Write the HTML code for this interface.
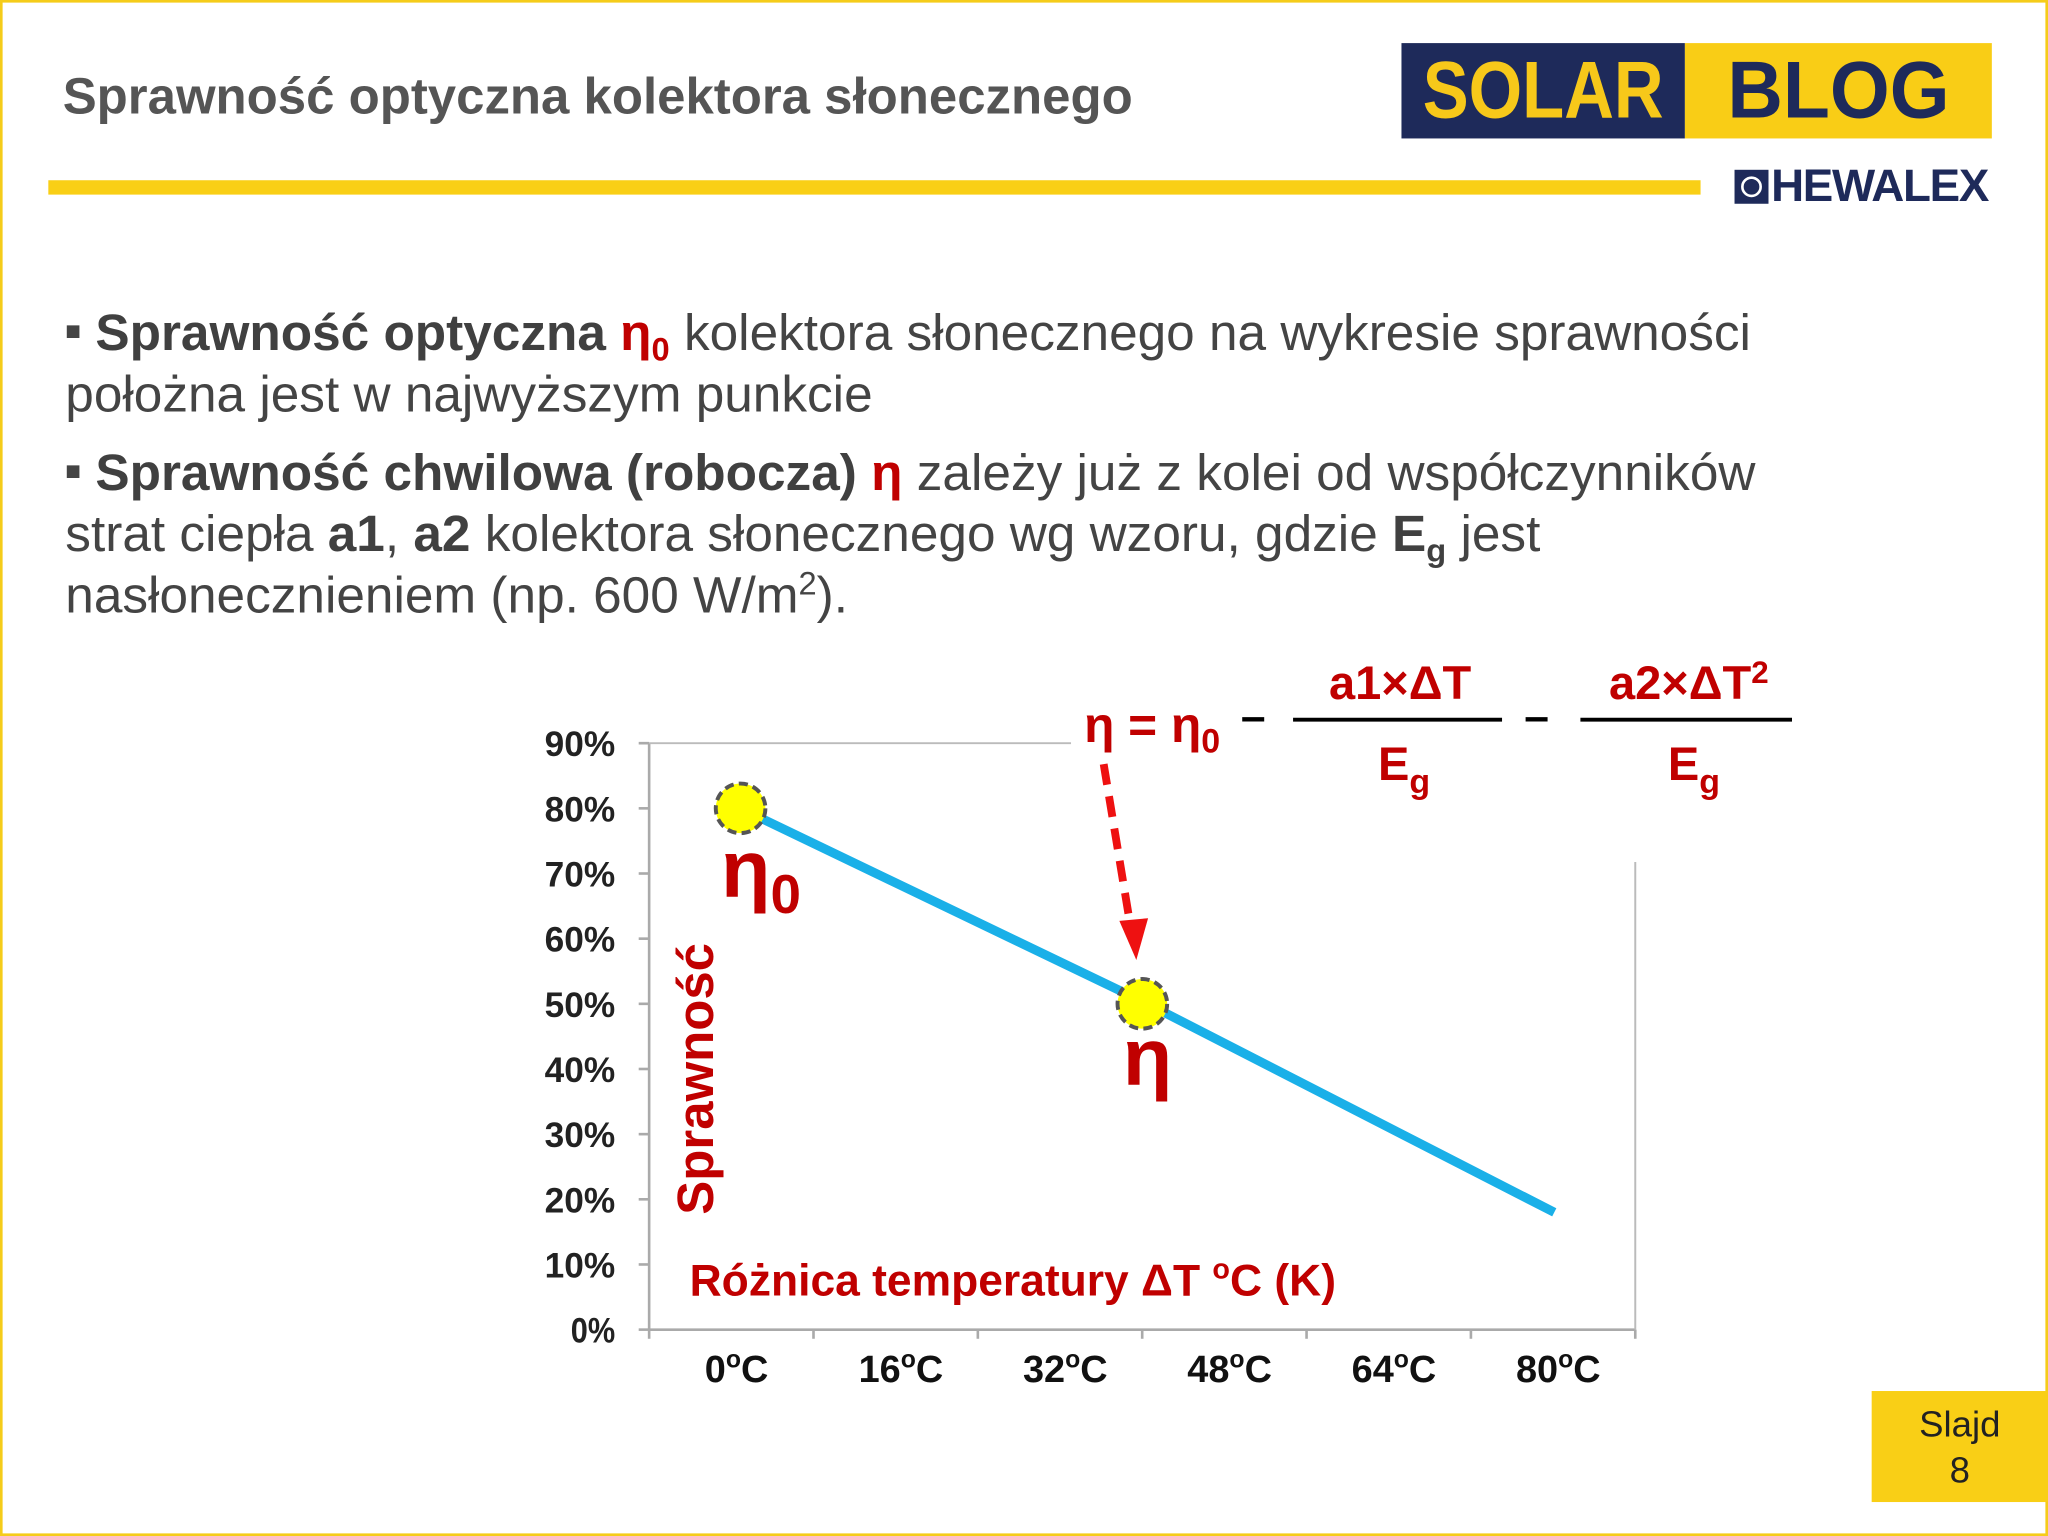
<!DOCTYPE html>
<html><head><meta charset="utf-8"><style>
html,body{margin:0;padding:0;background:#fff;}
body{width:2048px;height:1536px;overflow:hidden;}
#wrap{position:absolute;left:0;top:0;width:1568px;height:1176px;transform:scale(1.306122);transform-origin:0 0;font-family:"Liberation Sans",sans-serif;}
.abs{position:absolute;}
.bul{position:absolute;left:50px;font-size:39.3px;color:#444;line-height:47px;width:1345px;}
.bul b{color:#404040;}
.bul sub,.bul sup{line-height:0;font-size:25px;vertical-align:baseline;position:relative;}
.bul sub{top:8px;}
.bul sup{top:-14px;}
.r{color:#c00000;font-weight:bold;}
</style></head><body>
<div id="wrap">
<div class="abs" style="left:0;top:0;width:1564px;height:1172px;border:2px solid #f5cc1a;"></div>
<div class="abs" style="left:48px;top:53px;font-size:39px;font-weight:bold;color:#555;">Sprawność optyczna kolektora słonecznego</div>
<div class="abs" style="left:37px;top:138px;width:1265px;height:11px;background:#f9cf16;"></div>
<div class="abs" style="left:1073px;top:33px;width:452px;height:73px;">
 <div class="abs" style="left:0;top:0;width:217px;height:73px;background:#1e2a5a;color:#f7c81a;font-size:62px;font-weight:bold;line-height:73px;text-align:center;"><span style="display:inline-block;transform:scaleX(0.85);">SOLAR</span></div>
 <div class="abs" style="left:217px;top:0;width:235px;height:73px;background:#f9cd16;color:#1e2a5a;font-size:62px;font-weight:bold;line-height:73px;text-align:center;"><span style="display:inline-block;transform:scaleX(0.95);">BLOG</span></div>
</div>
<div class="abs" style="left:1328px;top:126px;height:34px;">
 <div class="abs" style="left:0;top:4px;width:26px;height:26px;background:#1e2a5a;"><div class="abs" style="left:5px;top:5px;width:12px;height:12px;border:2px solid #fff;border-radius:50%;"></div></div>
 <div class="abs" style="left:28px;top:-3px;font-size:35px;font-weight:bold;color:#1e2a5a;letter-spacing:-1px;white-space:nowrap;">HEWALEX</div>
</div>
<div class="bul" style="top:232px;"><span style="font-size:20px;vertical-align:8px;line-height:0;">■</span> <b>Sprawność optyczna</b> <span class="r">η<sub>0</sub></span> kolektora słonecznego na wykresie sprawności położna jest w najwyższym punkcie</div>
<div class="bul" style="top:339px;"><span style="font-size:20px;vertical-align:8px;line-height:0;">■</span> <b>Sprawność chwilowa (robocza)</b> <span class="r">η</span> zależy już z kolei od współczynników strat ciepła <b>a1</b>, <b>a2</b> kolektora słonecznego wg wzoru, gdzie <b>E<sub>g</sub></b> jest nasłonecznieniem (np. 600 W/m<sup>2</sup>).</div>

<svg class="abs" style="left:0;top:0" width="1568" height="1176">
<g id="axes"></g><g id="marks"></g>
<g font-family="Liberation Sans,sans-serif" font-weight="bold" fill="#c00000">
 <text x="830" y="568" font-size="38">η = η<tspan font-size="26" dy="8">0</tspan></text>
 <text x="950" y="560" font-size="34" fill="#000">–</text>
 <line x1="990" y1="551" x2="1150" y2="551" stroke="#000" stroke-width="3"/>
 <text x="1072" y="535" font-size="36" text-anchor="middle">a1×ΔT</text>
 <text x="1055" y="597" font-size="36">E<tspan font-size="26" dy="10">g</tspan></text>
 <text x="1167" y="560" font-size="34" fill="#000">–</text>
 <line x1="1210" y1="551" x2="1372" y2="551" stroke="#000" stroke-width="3"/>
 <text x="1293" y="535" font-size="36" text-anchor="middle">a2×ΔT<tspan font-size="24" dy="-12">2</tspan></text>
 <text x="1277" y="597" font-size="36">E<tspan font-size="26" dy="10">g</tspan></text>
</g>
<g>
 <line x1="845" y1="585" x2="866" y2="712" stroke="#ee1111" stroke-width="6" stroke-dasharray="16,9"/>
 <polygon points="857,705 879,703 870,735" fill="#ee1111"/>
</g>
</svg>
<div class="abs" style="left:1433px;top:1065px;width:135px;height:85px;background:#f9cf16;color:#222;font-size:28px;text-align:center;line-height:35px;padding-top:8px;box-sizing:border-box;">Slajd<br>8</div>
</div>
<script>
const yTicks=[0,10,20,30,40,50,60,70,80,90];
const xCategories=["0oC","16oC","32oC","48oC","64oC","80oC"];
const lineTemps=[0,40,80];
const lineEff=[80,50,18];
const markerTemps=[0,39.5];
const markerEff=[80,50];
const NS="http://www.w3.org/2000/svg";
const X0=497,X1=1252,Y0=1018,YH=569;
const yS=v=>Y0-(v/90)*(Y0-YH);
const xS=t=>567+t*(1190-567)/80;
const catW=(X1-X0)/xCategories.length;
function mk(tag,attrs,parent){const e=document.createElementNS(NS,tag);for(const k in attrs)e.setAttribute(k,attrs[k]);parent.appendChild(e);return e;}
const ax=document.getElementById('axes'),mg=document.getElementById('marks');
let l=mk('line',{x1:X0,y1:YH,x2:X0,y2:Y0,stroke:'#aaa','stroke-width':2},ax);


l=mk('line',{x1:X0,y1:Y0,x2:X1,y2:Y0,stroke:'#aaa','stroke-width':2},ax);


l=mk('line',{x1:X0,y1:YH,x2:820,y2:YH,stroke:'#bbb','stroke-width':1.5},ax);


l=mk('line',{x1:X1,y1:660,x2:X1,y2:Y0,stroke:'#bbb','stroke-width':1.5},ax);


yTicks.forEach(v=>{
 mk('line',{x1:X0-8,y1:yS(v),x2:X0,y2:yS(v),stroke:'#aaa','stroke-width':2},ax);
 const t=mk('text',{x:471,y:yS(v)+10,'text-anchor':'end','font-size':27,'font-weight':'bold','font-family':'Liberation Sans,sans-serif',fill:'#222',textLength:v===0?34:54,lengthAdjust:'spacingAndGlyphs'},ax);
 t.textContent=v+'%';
 
 
});
xCategories.forEach((c,i)=>{
 const xt=X0+i*catW;
 mk('line',{x1:xt,y1:Y0,x2:xt,y2:Y0+7,stroke:'#aaa','stroke-width':2},ax);
 const t=mk('text',{x:xt+catW/2+4,y:1058,'text-anchor':'middle','font-size':29,'font-weight':'bold','font-family':'Liberation Sans,sans-serif',fill:'#111'},ax);
 const m=c.match(/^(\d+)o(C)$/);
 t.appendChild(document.createTextNode(m[1]));
 const s=mk('tspan',{'font-size':19,dy:-11},t);s.textContent='o';
 const s2=mk('tspan',{dy:11},t);s2.textContent='C';
 
 
});
mk('line',{x1:X1,y1:Y0,x2:X1,y2:Y0+7,stroke:'#aaa','stroke-width':2},ax);
let yt=mk('text',{x:0,y:0,transform:'translate(546,930) rotate(-90)','font-size':39,'font-weight':'bold','font-family':'Liberation Sans,sans-serif',fill:'#c00000'},ax);
yt.textContent='Sprawność';


let xt=mk('text',{x:528,y:992,'font-size':34,'font-weight':'bold','font-family':'Liberation Sans,sans-serif',fill:'#c00000'},ax);
xt.textContent='Różnica temperatury ΔT ';
const so=mk('tspan',{'font-size':22,dy:-13},xt);so.textContent='o';
const sc=mk('tspan',{dy:13},xt);sc.textContent='C (K)';


const pl=mk('polyline',{points:lineTemps.map((t,i)=>xS(t)+','+yS(lineEff[i])).join(' '),fill:'none',stroke:'#1ab0e8','stroke-width':7},mg);


markerTemps.forEach((t,i)=>{
 const c=mk('circle',{cx:xS(t),cy:yS(markerEff[i]),r:19,fill:'#ffff00',stroke:'#555','stroke-width':3,'stroke-dasharray':'7,4'},mg);
 
 
 const lb=mk('text',{x:xS(t)-15,y:yS(markerEff[i])+(i===0?68:62),'font-size':62,'font-weight':'bold','font-family':'Liberation Sans,sans-serif',fill:'#c00000'},mg);
 lb.textContent='η';
 if(i===0){const s=mk('tspan',{'font-size':42,dy:12},lb);s.textContent='0';}
 
 
});
</script>
</body></html>
